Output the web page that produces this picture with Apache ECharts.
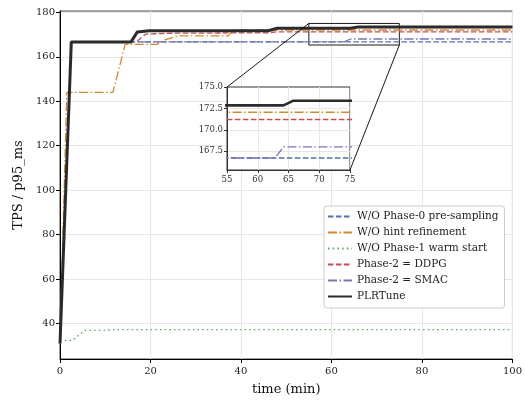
<!DOCTYPE html>
<html><head><meta charset="utf-8">
<script src="https://cdn.jsdelivr.net/npm/echarts@6/dist/echarts.min.js"></script>
<style>html,body{margin:0;padding:0;background:#fff}#c{width:525px;height:401px}</style>
</head><body><div id="c"></div>
<script>
// ---- data ----
const seriesNames = ['W/O Phase-0 pre-sampling','W/O hint refinement','W/O Phase-1 warm start','Phase-2 = DDPG','Phase-2 = SMAC','PLRTune'];
const tPhase0 = [0, 2.5, 100];
const vPhase0 = [31, 166.7, 166.7];
const tHint = [0, 1.5, 11.7, 14.4, 21.5, 23, 26, 37.2, 38.2, 100];
const vHint = [31, 144, 144, 165.6, 165.6, 167.5, 169.4, 169.4, 172.05, 172.05];
const tPhase1 = [0, 2.8, 5.5, 10.2, 11.2, 100];
const vPhase1 = [32.1, 32.5, 36.9, 36.9, 37.2, 37.2];
const tDDPG = [0, 2.5, 16.8, 19, 25, 46, 48, 100];
const vDDPG = [31, 166.7, 166.7, 170.2, 170.6, 170.8, 171.2, 171.2];
const tSMAC = [0, 2.5, 62.8, 64.2, 100];
const vSMAC = [31, 166.7, 166.7, 168, 168];
const tPLR = [0, 2.5, 15.7, 17.1, 19.7, 46, 48, 64.2, 65.8, 100];
const vPLR = [31, 166.7, 166.7, 171.2, 171.7, 171.7, 172.85, 172.85, 173.4, 173.4];
const xTicks = [0, 20, 40, 60, 80, 100];
const yTicks = [40, 60, 80, 100, 120, 140, 160, 180];
const insetXTicks = [55, 60, 65, 70, 75];
const insetYTicks = [167.5, 170, 172.5, 175];
const zoomX = [55, 75];
const zoomY = [165.3, 175];

const times = [tPhase0, tHint, tPhase1, tDDPG, tSMAC, tPLR];
const vals = [vPhase0, vHint, vPhase1, vDDPG, vSMAC, vPLR];
const colors = ['#4c72b0', '#d48a2c', '#55a868', '#c44e52', '#8172b3', '#2b2b2b'];
const dashes = [[5.5, 2.5], [9, 2.5, 1.5, 2.5], [1.5, 3.2], [5.5, 2.5], [9, 2.5, 1.5, 2.5], 'solid'];
const widths = [1.3, 1.3, 1.4, 1.3, 1.3, 3];

const serif = 'DejaVu Serif';
const pairs = (t, v) => t.map((x, i) => [x, v[i]]);

const series = [];
seriesNames.forEach((n, i) => {
  const s = {
    name: n, type: 'line', xAxisIndex: 0, yAxisIndex: 0,
    data: pairs(times[i], vals[i]), symbol: 'none', z: 2,
    lineStyle: { color: colors[i], width: widths[i], type: dashes[i] },
    itemStyle: { color: colors[i] }, animation: false
  };
  if (i === seriesNames.length - 1) {
    s.markArea = {
      silent: true,
      itemStyle: { color: 'rgba(0,0,0,0)', borderColor: '#000', borderWidth: 0.9 },
      data: [[{ coord: [zoomX[0], zoomY[1]] }, { coord: [zoomX[1], zoomY[0]] }]]
    };
  }
  series.push(s);
});
seriesNames.forEach((n, i) => {
  const s = {
    name: n, type: 'line', xAxisIndex: 1, yAxisIndex: 1,
    data: pairs(times[i], vals[i]), symbol: 'none', z: 7, clip: true,
    lineStyle: { color: colors[i], width: widths[i] === 3 ? 2.6 : 1.3, type: dashes[i] },
    itemStyle: { color: colors[i] }, animation: false
  };
  if (i === 0) {
    s.markLine = {
      silent: true, symbol: 'none', label: { show: false },
      lineStyle: { color: '#e6e6e6', type: 'solid', width: 1 },
      data: insetYTicks.slice(0, 3).map(v => ({ yAxis: v }))
    };
  }
  series.push(s);
});

const chart = echarts.init(document.getElementById('c'), null, { renderer: 'canvas' });
chart.setOption({
  animation: false,
  backgroundColor: '#fff',
  grid: [
    { left: 60, right: 8, top: 11, bottom: 39, show: true, borderColor: '#444', borderWidth: 1, backgroundColor: '#fff' },
    { left: 227, top: 87, width: 123, height: 83, show: true, borderColor: '#333', borderWidth: 1, backgroundColor: '#fff', z: 5 }
  ],
  xAxis: [
    {
      type: 'value', gridIndex: 0, min: 0, max: 100, interval: 20,
      name: 'time (min)', nameLocation: 'middle', nameGap: 24,
      nameTextStyle: { fontFamily: serif, fontSize: 13, color: '#111' },
      axisLine: { lineStyle: { color: '#000', width: 1 } },
      axisTick: { show: true, length: 4, lineStyle: { color: '#000' } },
      axisLabel: { fontFamily: serif, fontSize: 10, color: '#222', margin: 7 },
      splitLine: { show: true, lineStyle: { color: '#e6e6e6', width: 1 } }
    },
    {
      type: 'value', gridIndex: 1, min: zoomX[0], max: zoomX[1], interval: 5, z: 6,
      axisLine: { lineStyle: { color: '#333', width: 1 } },
      axisTick: { show: true, length: 3, lineStyle: { color: '#333' } },
      axisLabel: { fontFamily: serif, fontSize: 8.5, color: '#333', margin: 5 },
      splitLine: { show: true, lineStyle: { color: '#e6e6e6', width: 1 } }
    }
  ],
  yAxis: [
    {
      type: 'value', gridIndex: 0, min: 24, max: 180.6, splitNumber: 8,
      name: 'TPS / p95_ms', nameLocation: 'middle', nameGap: 35,
      nameTextStyle: { fontFamily: serif, fontSize: 13, color: '#111' },
      axisLine: { show: true, lineStyle: { color: '#000', width: 1 } },
      axisTick: { show: true, length: 4, lineStyle: { color: '#000' }, customValues: yTicks },
      axisLabel: { fontFamily: serif, fontSize: 10, color: '#222', margin: 5, customValues: yTicks },
      splitLine: { show: true, lineStyle: { color: '#e6e6e6', width: 1 } }
    },
    {
      type: 'value', gridIndex: 1, min: zoomY[0], max: zoomY[1], z: 6,
      axisLine: { show: true, lineStyle: { color: '#333', width: 1 } },
      axisTick: { show: true, length: 3, lineStyle: { color: '#333' }, customValues: insetYTicks },
      axisLabel: { fontFamily: serif, fontSize: 8.5, color: '#333', margin: 4, customValues: insetYTicks, formatter: v => v.toFixed(1) },
      splitLine: { show: false }
    }
  ],
  legend: {
    data: seriesNames, orient: 'vertical', left: 324, top: 206,
    itemWidth: 24, itemHeight: 10, itemGap: 5, padding: [5, 6, 6, 3],
    backgroundColor: 'rgba(255,255,255,0.85)', borderColor: '#ccc', borderWidth: 1, borderRadius: 3,
    itemStyle: { opacity: 0, borderWidth: 0 },
    textStyle: { fontFamily: serif, fontSize: 10.5, color: '#222' }
  },
  series: series
});

function connectors() {
  const a1 = chart.convertToPixel({ gridIndex: 0 }, [zoomX[0], zoomY[1]]);
  const b1 = chart.convertToPixel({ gridIndex: 1 }, [zoomX[0], zoomY[1]]);
  const a2 = chart.convertToPixel({ gridIndex: 0 }, [zoomX[1], zoomY[0]]);
  const b2 = chart.convertToPixel({ gridIndex: 1 }, [zoomX[1], zoomY[0]]);
  chart.setOption({
    graphic: [
      { type: 'line', z: 20, shape: { x1: a1[0], y1: a1[1], x2: b1[0], y2: b1[1] }, style: { stroke: '#000', lineWidth: 0.9 } },
      { type: 'line', z: 20, shape: { x1: a2[0], y1: a2[1], x2: b2[0], y2: b2[1] }, style: { stroke: '#000', lineWidth: 0.9 } }
    ]
  });
}
connectors();
</script>
</body></html>
